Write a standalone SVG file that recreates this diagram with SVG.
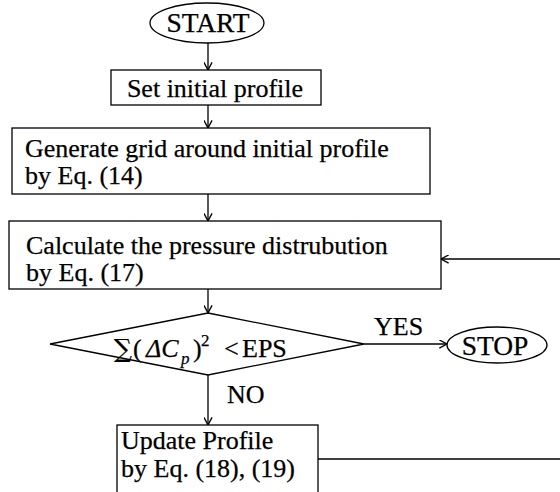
<svg xmlns="http://www.w3.org/2000/svg" width="560" height="492" viewBox="0 0 560 492">
<defs>
<marker id="ah" viewBox="0 0 10 10" refX="9.5" refY="5" markerWidth="9" markerHeight="9" markerUnits="userSpaceOnUse" orient="auto">
<path d="M1,0.5 L9.5,5 L1,9.5" fill="none" stroke="#000" stroke-width="1.5"/>
</marker>
<style>
.b{fill:#fff;stroke:#000;stroke-width:1.3}
.t{font-family:"Liberation Serif","Times New Roman",serif;font-size:26px;fill:#000;stroke:#000;stroke-width:0.25}
.T{font-family:"Liberation Serif","Times New Roman",serif;font-size:27.5px;fill:#000;stroke:#000;stroke-width:0.25}
.c{fill:none;stroke:#000;stroke-width:1.3}
.a{fill:none;stroke:#000;stroke-width:1.3;marker-end:url(#ah)}
</style>
</defs>
<rect width="560" height="492" fill="#fff"/>
<g id="connectors">
<line class="a" x1="208" y1="43" x2="208" y2="70"/>
<line class="a" x1="208" y1="105" x2="208" y2="128"/>
<line class="a" x1="208" y1="194" x2="208" y2="221"/>
<line class="a" x1="208" y1="289" x2="208" y2="313"/>
<line class="a" x1="208" y1="375" x2="208" y2="425"/>
<line class="a" x1="364" y1="344" x2="447" y2="344"/>
<line class="a" x1="560" y1="259" x2="441" y2="259"/>
<line class="c" x1="318" y1="459" x2="560" y2="459"/>
<text class="t" x="374" y="335">YES</text>
<text class="t" x="227" y="403">NO</text>
</g>
<g id="start">
<ellipse class="b" cx="207" cy="23" rx="57" ry="20"/>
<text class="T" x="208" y="32" text-anchor="middle">START</text>
</g>
<g id="set-initial">
<rect class="b" x="111" y="70" width="210" height="35"/>
<text class="t" x="215" y="97" text-anchor="middle">Set initial profile</text>
</g>
<g id="generate-grid">
<rect class="b" x="12" y="128" width="418" height="66"/>
<text class="t" x="25" y="157">Generate grid around initial profile</text>
<text class="t" x="25" y="184">by Eq. (14)</text>
</g>
<g id="calculate">
<rect class="b" x="9" y="221" width="432" height="68"/>
<text class="t" x="26" y="254">Calculate the pressure distrubution</text>
<text class="t" x="26" y="281">by Eq. (17)</text>
</g>
<g id="decision">
<polygon class="b" points="208,313 364,344 208,375 50,344"/>
<text class="t" y="357"><tspan x="114" font-family="DejaVu Serif, serif" font-size="25">∑</tspan><tspan x="133">(</tspan><tspan x="146" font-style="italic">ΔC</tspan><tspan x="181" y="364" font-size="17" font-style="italic">p</tspan><tspan x="193" y="357">)</tspan><tspan x="201" y="346" font-size="17">2</tspan><tspan x="224" y="357">&lt;</tspan><tspan x="242">EPS</tspan></text>
</g>
<g id="stop">
<ellipse class="b" cx="497" cy="345" rx="50" ry="18"/>
<text class="T" x="495" y="355" text-anchor="middle">STOP</text>
</g>
<g id="update-profile">
<rect class="b" x="117" y="425" width="201" height="72"/>
<text class="t" x="121" y="449">Update Profile</text>
<text class="t" x="121" y="477">by Eq. (18), (19)</text>
</g>
</svg>
